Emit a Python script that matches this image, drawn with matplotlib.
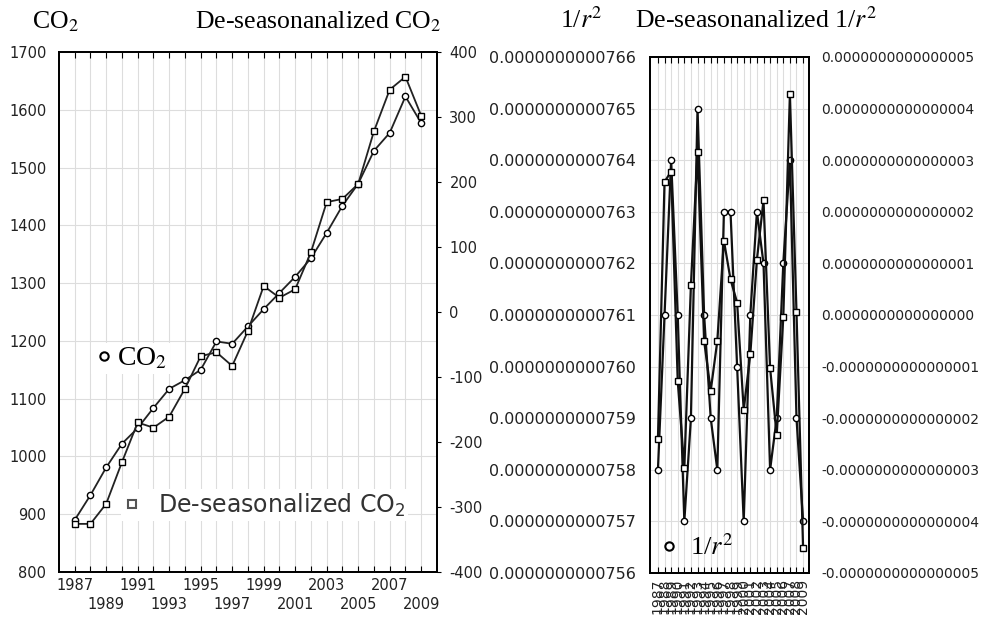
import matplotlib.pyplot as plt
import numpy as np
from matplotlib.lines import Line2D
from matplotlib.ticker import FuncFormatter
from matplotlib.font_manager import FontProperties

plt.rcParams['mathtext.fontset'] = 'stix'
plt.rcParams['font.family'] = 'DejaVu Sans'
plt.rcParams['axes.unicode_minus'] = False

# data
years = list(range(1987, 2010))
co2 = [890, 933, 981, 1022, 1049, 1084, 1117, 1132, 1150, 1199, 1195, 1225,
       1255, 1283, 1311, 1343, 1387, 1434, 1472, 1529, 1560, 1623, 1577]
co2_deseason = [-326, -326, -295, -231, -170, -178, -161, -118, -68, -62, -83, -29,
                40, 22, 35, 92, 169, 174, 197, 278, 342, 362, 302]
# 1/r^2 in units of 1e-13, de-seasonalized in units of 1e-16
inv_r2 = np.array([758, 761, 764, 761, 757, 759, 765, 761, 759, 758, 763, 763,
                   760, 757, 761, 763, 762, 758, 759, 762, 764, 759, 757]) * 1e-13
inv_r2_deseason = np.array([-2.41, 2.58, 2.78, -1.28, -2.97, 0.58, 3.15, -0.50, -1.47, -0.50,
                            1.44, 0.69, 0.24, -1.84, -0.76, 1.07, 2.22, -1.03, -2.33, -0.04,
                            4.28, 0.05, -4.52]) * 1e-16

serif = 'Liberation Serif'
tick_color = '#222222'
grid_kw = dict(color='#dddddd', lw=0.8)

fig = plt.figure(figsize=(9.81, 6.28), dpi=100)

# ---------- left panel: CO2 ----------
ax1 = fig.add_axes([0.0601, 0.0892, 0.3853, 0.828])
ax1r = ax1.twinx()

ax1.plot(years, co2, color='#222222', lw=1.3, marker='o', ms=4.5,
         mfc='white', mec='black', mew=1.0)
ax1r.plot(years, co2_deseason, color='#222222', lw=1.3, marker='s', ms=5,
          mfc='white', mec='black', mew=1.0)

ax1.set_xlim(1986, 2010)
ax1.set_ylim(800, 1700)
ax1r.set_ylim(-400, 400)
ax1.set_yticks(range(800, 1701, 100))
ax1r.set_yticks(range(-400, 401, 100))

xlabels = []
for y in years:
    if (y - 1987) % 4 == 0:
        xlabels.append(str(y))
    elif (y - 1987) % 4 == 2:
        xlabels.append('\n' + str(y))
    else:
        xlabels.append('')
ax1.set_xticks(years)
ax1.set_xticklabels(xlabels, fontsize=10.5, color=tick_color, linespacing=1.35)
ax1.tick_params(axis='x', direction='in', top=True, length=4, pad=4)
ax1.tick_params(axis='y', length=0, pad=9, labelsize=10.5, labelcolor=tick_color)
ax1r.tick_params(axis='y', length=3, pad=6, labelsize=10.5, labelcolor=tick_color)
ax1.grid(True, **grid_kw)
ax1.set_axisbelow(True)
for a in (ax1, ax1r):
    for s in a.spines.values():
        s.set_linewidth(1.3)

h_co2 = Line2D([], [], ls='none', marker='o', ms=6, mfc='white', mec='black', mew=1.5)
h_des = Line2D([], [], ls='none', marker='s', ms=6, mfc='white', mec='#555555', mew=1.5)
leg1 = ax1r.legend([h_co2], ['CO$_2$'], loc='center left', bbox_to_anchor=(0.085, 0.41),
                   prop=FontProperties(family=serif, size=20, math_fontfamily='stix'),
                   frameon=True, fancybox=False, edgecolor='none', framealpha=1,
                   borderpad=0.1, borderaxespad=0, handlelength=0.7, handletextpad=0.15)
ax1r.add_artist(leg1)
ax1r.legend([h_des], ['De-seasonalized CO$_2$'], loc='center left',
            bbox_to_anchor=(0.163, 0.129),
            prop=FontProperties(family='DejaVu Sans', size=17, math_fontfamily='dejavusans'),
            labelcolor='#333333',
            frameon=True, fancybox=False, edgecolor='none', framealpha=1,
            borderpad=0.1, borderaxespad=0, handlelength=0.8, handletextpad=0.68)

# ---------- right panel: 1/r^2 ----------
ax2 = fig.add_axes([0.6626, 0.0876, 0.1621, 0.8217])
ax2r = ax2.twinx()

ax2.plot(years, inv_r2, color='#111111', lw=1.6, marker='o', ms=4.5,
         mfc='white', mec='black', mew=1.0, solid_joinstyle='miter')
ax2r.plot(years, inv_r2_deseason, color='#111111', lw=1.6, marker='s', ms=5,
          mfc='white', mec='black', mew=1.0, solid_joinstyle='miter')

ax2.set_xlim(1985.8, 2009.9)
ax2.set_ylim(7.56e-11, 7.66e-11)
ax2r.set_ylim(-5e-16, 5e-16)
ax2.set_yticks(np.arange(756, 767) * 1e-13)
ax2r.set_yticks(np.arange(-5, 6) * 1e-16)
ax2.yaxis.set_major_formatter(FuncFormatter(lambda v, p: f'{v:.13f}'))
ax2r.yaxis.set_major_formatter(FuncFormatter(lambda v, p: f'{v:.16f}'))

ax2.set_xticks(years)
ax2.set_xticklabels([str(y) for y in years], rotation=90, fontsize=10, color=tick_color)
ax2.tick_params(axis='x', direction='in', top=True, length=4, pad=4)
ax2.tick_params(axis='y', length=0, pad=10, labelsize=11.5, labelcolor=tick_color)
ax2r.tick_params(axis='y', length=0, pad=9, labelsize=10, labelcolor=tick_color)
ax2.grid(True, **grid_kw)
ax2.set_axisbelow(True)
for a in (ax2, ax2r):
    for s in a.spines.values():
        s.set_linewidth(1.3)

h_r2 = Line2D([], [], ls='none', marker='o', ms=6, mfc='white', mec='black', mew=1.5)
ax2r.legend([h_r2], ['1/$r^2$'], loc='center left', bbox_to_anchor=(0.045, 0.05),
            prop=FontProperties(family=serif, size=19, math_fontfamily='stix'),
            frameon=False, borderpad=0.1, borderaxespad=0, handlelength=0.7,
            handletextpad=0.45)

# ---------- headers ----------
hdr = dict(fontsize=18.5, family=serif, va='center', ha='left')
fig.text(32 / 981, 1 - 22 / 628, 'CO$_2$', **hdr)
fig.text(195 / 981, 1 - 22 / 628, 'De-seasonanalized CO$_2$', **hdr)
fig.text(560 / 981, 1 - 20 / 628, '1/$r^2$', **hdr)
fig.text(635 / 981, 1 - 20 / 628, 'De-seasonanalized 1/$r^2$', **hdr)

fig.savefig('out.png', dpi=100)
